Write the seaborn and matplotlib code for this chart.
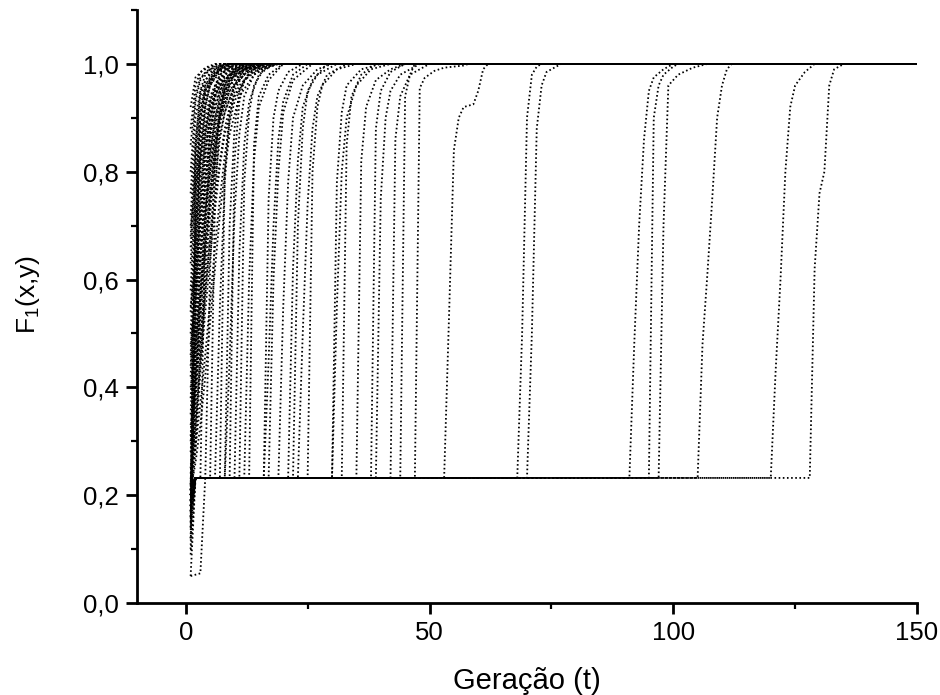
import matplotlib
matplotlib.use("Agg")
import matplotlib.pyplot as plt
import pandas as pd
import seaborn as sns
from matplotlib.ticker import MultipleLocator, FixedLocator

LAST_GEN = 150
PLATEAU = 0.232          # local optimum the search gets trapped in
P = PLATEAU

x_ticks = [0, 50, 100, 150]
x_tick_labels = ["0", "50", "100", "150"]
y_ticks = [0.0, 0.2, 0.4, 0.6, 0.8, 1.0]
y_tick_labels = ["0,0", "0,2", "0,4", "0,6", "0,8", "1,0"]

# runs that climb straight to the optimum from the first generation: (t, F1)
early_runs = [
    [(1, .92), (2, .975), (4, .993), (6, 1.0)],
    [(1, .88), (2, .96), (3, .985), (5, .995), (7, 1.0)],
    [(1, .85), (2, .94), (3, .975), (5, .99), (8, 1.0)],
    [(1, .80), (2, .93), (3, .97), (4, .985), (6, .995), (9, 1.0)],
    [(1, .76), (2, .90), (3, .95), (5, .985), (8, 1.0)],
    [(1, .72), (2, .86), (3, .94), (4, .97), (6, .99), (9, 1.0)],
    [(1, .70), (2, .77), (3, .83), (4, .88), (5, .92), (7, .96), (10, .99), (13, 1.0)],
    [(1, .68), (2, .84), (3, .92), (4, .96), (6, .985), (10, 1.0)],
    [(1, .66), (2, .82), (3, .91), (4, .95), (6, .98), (9, 1.0)],
    [(1, .63), (2, .80), (3, .90), (4, .95), (5, .97), (7, .99), (10, 1.0)],
    [(1, .58), (2, .78), (3, .88), (4, .94), (6, .98), (8, 1.0)],
    [(1, .55), (2, .63), (3, .71), (4, .78), (5, .84), (6, .89), (7, .93), (9, .97), (12, .99), (15, 1.0)],
    [(1, .54), (2, .72), (3, .85), (4, .92), (5, .96), (7, .985), (11, 1.0)],
    [(1, .50), (2, .70), (3, .82), (4, .90), (5, .94), (7, .98), (10, 1.0)],
    [(1, .48), (2, .56), (3, .65), (4, .73), (5, .80), (6, .86), (7, .90), (9, .95), (12, .98), (16, 1.0)],
    [(1, .46), (2, .66), (3, .80), (4, .88), (5, .93), (6, .96), (8, .985), (12, 1.0)],
    [(1, .44), (2, .60), (3, .74), (4, .84), (5, .90), (6, .94), (8, .975), (11, .99), (14, 1.0)],
    [(1, .42), (2, .62), (3, .77), (4, .86), (5, .92), (7, .97), (9, .99), (11, 1.0)],
    [(1, .40), (2, .48), (3, .57), (4, .66), (5, .74), (6, .81), (7, .87), (8, .91), (10, .96), (13, .99), (16, 1.0)],
    [(1, .38), (2, .57), (3, .72), (4, .83), (5, .90), (6, .94), (8, .98), (12, 1.0)],
    [(1, .35), (2, .55), (3, .70), (4, .80), (5, .88), (7, .95), (9, .98), (13, 1.0)],
    [(1, .33), (2, .40), (3, .49), (4, .58), (5, .67), (6, .75), (7, .82), (8, .88), (9, .92), (11, .96), (14, .99), (19, 1.0)],
    [(1, .31), (2, .50), (3, .66), (4, .78), (5, .86), (6, .92), (8, .97), (11, .99), (14, 1.0)],
    [(1, .30), (2, .41), (3, .54), (4, .66), (5, .76), (6, .84), (7, .90), (9, .96), (12, .99), (17, 1.0)],
    [(1, .28), (2, .46), (3, .62), (4, .75), (5, .84), (6, .90), (8, .96), (10, .985), (13, 1.0)],
    [(1, .25), (2, .42), (3, .58), (4, .71), (5, .81), (6, .88), (7, .93), (9, .97), (12, .99), (15, 1.0)],
    [(1, .24), (2, .33), (3, .45), (4, .57), (5, .68), (6, .78), (7, .86), (8, .91), (10, .96), (13, .99), (18, 1.0)],
    [(1, .23), (2, .29), (3, .37), (4, .46), (5, .56), (6, .66), (7, .75), (8, .83), (9, .89), (10, .93), (12, .97), (15, .99), (19, 1.0)],
    [(1, .22), (2, .40), (3, .56), (4, .69), (5, .80), (6, .87), (8, .95), (10, .98), (14, 1.0)],
    [(1, .22), (2, .30), (3, .48), (4, .63), (5, .75), (6, .84), (7, .90), (8, .94), (10, .98), (14, 1.0)],
    [(1, .21), (2, .26), (3, .33), (4, .42), (5, .52), (6, .62), (7, .72), (8, .80), (9, .87), (11, .94), (14, .98), (18, 1.0)],
    [(1, .21), (2, .70), (3, .88), (4, .95), (6, .985), (8, 1.0)],
    [(1, .20), (2, .36), (3, .52), (4, .66), (5, .77), (6, .85), (7, .91), (9, .96), (12, .99), (16, 1.0)],
    [(1, .20), (2, .85), (3, .95), (4, .98), (6, 1.0)],
    [(1, .19), (2, .32), (3, .43), (4, .54), (5, .64), (6, .73), (7, .81), (8, .87), (10, .94), (13, .98), (17, 1.0)],
    [(1, .19), (2, .28), (3, .44), (4, .60), (5, .72), (6, .82), (7, .89), (9, .95), (12, .99), (16, 1.0)],
    [(1, .18), (2, .50), (3, .70), (4, .83), (5, .91), (6, .95), (8, .98), (11, 1.0)],
    [(1, .17), (2, .45), (3, .64), (4, .78), (5, .87), (6, .93), (8, .97), (10, .99), (13, 1.0)],
    [(1, .16), (2, .38), (3, .57), (4, .72), (5, .83), (6, .90), (7, .94), (9, .98), (12, 1.0)],
    [(1, .15), (2, .60), (3, .82), (4, .92), (5, .96), (7, .99), (9, 1.0)],
    [(1, .14), (2, .65), (3, .85), (4, .93), (5, .97), (7, .99), (9, 1.0)],
    [(1, .12), (2, .75), (3, .90), (4, .96), (6, .99), (8, 1.0)],
    [(1, .10), (2, .55), (3, .75), (4, .87), (5, .93), (7, .98), (10, 1.0)],
]

# runs trapped on the plateau: (points before the plateau, last trapped generation, escape)
trapped_runs = [
    ([(1, .05), (2, P)], 3, [(4, .70), (5, .88), (6, .95), (8, .99), (10, 1.0)]),
    ([(1, .18), (2, P)], 4, [(5, .62), (6, .82), (7, .92), (9, .97), (12, 1.0)]),
    ([(1, .21), (2, P)], 5, [(6, .75), (7, .90), (8, .96), (10, .99), (12, 1.0)]),
    ([(1, .09), (2, P)], 6, [(7, .55), (8, .78), (9, .90), (10, .95), (12, .985), (15, 1.0)]),
    ([(1, .22), (2, P)], 7, [(8, .80), (9, .92), (10, .96), (12, .99), (15, 1.0)]),
    ([(1, .19), (2, P)], 8, [(9, .70), (10, .88), (11, .95), (13, .985), (16, 1.0)]),
    ([(1, .17), (2, P)], 8, [(9, .45), (10, .72), (11, .87), (12, .94), (14, .98), (17, 1.0)]),
    ([(1, .20), (2, P)], 9, [(10, .82), (11, .93), (12, .97), (14, .99), (16, 1.0)]),
    ([(1, .12), (2, P)], 10, [(11, .65), (12, .85), (13, .93), (15, .98), (18, 1.0)]),
    ([(1, .21), (2, P)], 11, [(12, .78), (13, .91), (14, .96), (16, .99), (19, 1.0)]),
    ([(1, .16), (2, P)], 12, [(13, .60), (14, .82), (15, .92), (17, .97), (20, 1.0)]),
    ([(1, .20), (2, P)], 13, [(14, .85), (15, .94), (17, .98), (20, 1.0)]),
    ([(1, .05), (3, .055), (4, P)], 16, [(17, .45), (18, .70), (19, .86), (20, .93), (22, .98), (25, 1.0)]),
    ([(1, .21), (2, P)], 16, [(17, .75), (18, .90), (19, .95), (21, .985), (24, 1.0)]),
    ([(1, .14), (2, P)], 17, [(18, .60), (19, .80), (20, .91), (22, .97), (26, 1.0)]),
    ([(1, .20), (2, P)], 19, [(20, .55), (21, .78), (22, .90), (24, .96), (27, .99), (30, 1.0)]),
    ([(1, .19), (2, P)], 21, [(22, .62), (23, .82), (24, .92), (26, .97), (29, 1.0)]),
    ([(1, .22), (2, P)], 22, [(23, .70), (24, .88), (25, .95), (27, .98), (31, 1.0)]),
    ([(1, .17), (2, P)], 23, [(24, .50), (25, .74), (26, .88), (27, .94), (29, .98), (33, 1.0)]),
    ([(1, .20), (2, P)], 25, [(26, .80), (27, .92), (28, .96), (31, .99), (35, 1.0)]),
    ([(1, .21), (2, P)], 30, [(31, .78), (32, .91), (33, .96), (36, .99), (40, 1.0)]),
    ([(1, .18), (2, P)], 30, [(31, .55), (32, .80), (33, .90), (35, .96), (38, .99), (42, 1.0)]),
    ([(1, .20), (2, P)], 32, [(33, .85), (34, .94), (36, .98), (39, 1.0)]),
    ([(1, .16), (2, P)], 35, [(36, .82), (37, .92), (39, .97), (42, .99), (45, 1.0)]),
    ([(1, .20), (2, P)], 38, [(39, .88), (40, .95), (42, .985), (45, 1.0)]),
    ([(1, .19), (2, P)], 39, [(40, .75), (41, .90), (42, .95), (44, .98), (48, 1.0)]),
    ([(1, .21), (2, P)], 42, [(43, .86), (44, .94), (46, .98), (50, 1.0)]),
]

# runs that stay trapped for a long time
late_runs = [
    ([(1, .20), (2, P)], 44, [(45, .94), (46, .98), (47, 1.0)]),
    ([(1, .18), (2, P)], 47, [(48, .955), (49, .974), (51, .987), (53, .993), (57, .997), (58, 1.0)]),
    ([(1, .21), (2, P)], 53, [(54, .53), (55, .84), (56, .90), (57, .92), (59, .925), (60, .95), (61, .99), (62, 1.0)]),
    ([(1, .19), (2, P)], 68, [(69, .50), (70, .90), (71, .98), (72, .995), (73, 1.0)]),
    ([(1, .20), (2, P)], 70, [(71, .50), (72, .88), (73, .96), (74, .985), (76, .995), (77, 1.0)]),
    ([(1, .17), (2, P)], 91, [(92, .48), (93, .70), (94, .86), (95, .95), (96, .975), (98, .99), (100, 1.0)]),
    ([(1, .22), (2, P)], 95, [(96, .90), (97, .96), (98, .98), (100, .995), (101, 1.0)]),
    ([(1, .20), (2, P)], 97, [(98, .70), (99, .96), (101, .98), (104, .993), (107, 1.0)]),
    ([(1, .18), (2, P)], 105, [(106, .48), (107, .61), (108, .75), (109, .90), (110, .96), (111, .99), (112, 1.0)]),
    ([(1, .21), (2, P)], 120, [(121, .43), (122, .60), (123, .80), (124, .92), (125, .96), (127, .985), (129, 1.0)]),
    ([(1, .19), (2, P)], 128, [(129, .62), (130, .76), (131, .80), (132, .96), (133, .99), (135, 1.0)]),
]

# long-form table: one row per (run, generation)
rows = []
run_id = 0
for pts in early_runs:
    for t, f in pts + [(LAST_GEN, 1.0)]:
        rows.append((run_id, t, f))
    run_id += 1
for head, last_trapped, escape in trapped_runs + late_runs:
    pts = head + [(last_trapped, PLATEAU)] + escape + [(LAST_GEN, 1.0)]
    for t, f in pts:
        rows.append((run_id, t, f))
    run_id += 1
df = pd.DataFrame(rows, columns=["run", "t", "F"])

sns.set_style("ticks")
plt.rcParams["font.family"] = ["Liberation Sans", "DejaVu Sans"]
plt.rcParams["mathtext.default"] = "regular"
plt.rcParams["text.color"] = "black"
plt.rcParams["axes.labelcolor"] = "black"

fig = plt.figure(figsize=(9.4, 6.95), dpi=100)
ax = fig.add_axes([137 / 940, 92 / 695, 780 / 940, 593 / 695])

sns.lineplot(data=df, x="t", y="F", units="run", estimator=None, sort=False,
             color="black", lw=1.3, linestyle=(0, (0.9, 1.4)), legend=False, ax=ax)

ax.set_xlim(-10, 150)
ax.set_ylim(0, 1.1)
sns.despine(ax=ax)
for side in ("left", "bottom"):
    ax.spines[side].set_linewidth(2)
    ax.spines[side].set_color("black")

ax.xaxis.set_major_locator(FixedLocator(x_ticks))
ax.set_xticklabels(x_tick_labels)
ax.xaxis.set_minor_locator(MultipleLocator(25))
ax.yaxis.set_major_locator(FixedLocator(y_ticks))
ax.set_yticklabels(y_tick_labels)
ax.yaxis.set_minor_locator(MultipleLocator(0.1))
ax.tick_params(which="major", direction="out", length=8, width=2, labelsize=18.5,
               pad=5, colors="black")
ax.tick_params(which="minor", direction="out", length=4.5, width=1.6, colors="black")

ax.set_xlabel("Geração (t)", fontsize=21, color="black")
ax.set_ylabel("F$_1$(x,y)", fontsize=19, color="black")
ax.xaxis.set_label_coords(0.5, -0.108)
ax.yaxis.set_label_coords(-0.122, 0.52)

fig.savefig("out.png", dpi=100)
